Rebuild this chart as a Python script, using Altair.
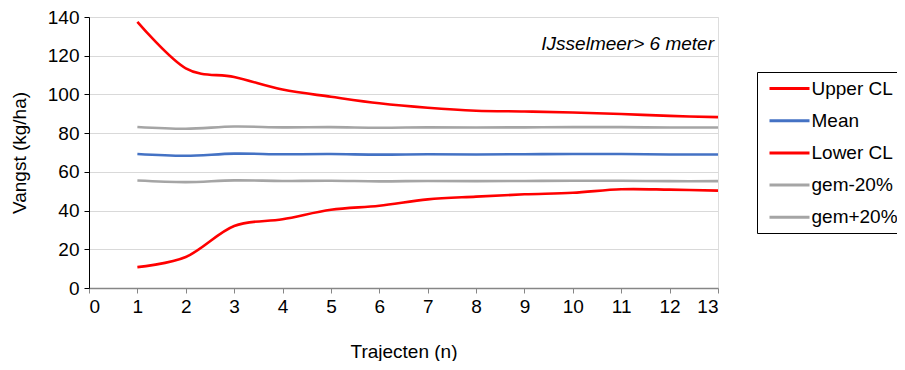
import altair as alt
import pandas as pd

trajecten = [1, 2, 3, 4, 5, 6, 7, 8, 9, 10, 11, 12, 13]
upper_cl = [137.5, 113.5, 109.0, 102.5, 98.8, 95.4, 93.1, 91.6, 91.2, 90.7, 89.9, 88.9, 88.3]
mean = [69.2, 68.3, 69.4, 69.1, 69.2, 68.9, 69.1, 69.0, 69.1, 69.2, 69.2, 69.0, 69.0]
lower_cl = [10.8, 16.0, 32.0, 35.5, 40.4, 42.5, 45.8, 47.2, 48.4, 49.2, 51.0, 50.8, 50.3]
gem_min20 = [55.5, 54.7, 55.6, 55.3, 55.4, 55.1, 55.3, 55.2, 55.3, 55.4, 55.4, 55.2, 55.2]
gem_plus20 = [83.2, 82.3, 83.4, 83.0, 83.1, 82.8, 83.0, 82.9, 83.0, 83.1, 83.1, 82.9, 82.9]

series_names = ["Upper CL", "Mean", "Lower CL", "gem-20%", "gem+20%"]
series_colors = ["#FF0000", "#4472C4", "#FF0000", "#A5A5A5", "#A5A5A5"]
annotation = "IJsselmeer> 6 meter"

df = pd.DataFrame({
    "n": trajecten,
    "Upper CL": upper_cl,
    "Mean": mean,
    "Lower CL": lower_cl,
    "gem-20%": gem_min20,
    "gem+20%": gem_plus20,
})
long = df.melt(id_vars="n", var_name="serie", value_name="vangst")

FONT = "Liberation Sans"
FS = 19
W, H = 629, 271

lines = alt.Chart(long).mark_line(
    interpolate="cardinal", strokeWidth=2.6
).encode(
    x=alt.X("n:Q", scale=alt.Scale(domain=[0, 13], nice=False),
            axis=alt.Axis(title="Trajecten (n)", values=list(range(0, 14)),
                          grid=False, domainColor="#868686", tickColor="#868686",
                          tickSize=5, labelPadding=4, titlePadding=26,
                          labelFontSize=FS, titleFontSize=FS,
                          labelColor="#000000", titleColor="#000000",
                          titleFontWeight="normal", labelFont=FONT, titleFont=FONT,
                          domainWidth=1.5)),
    y=alt.Y("vangst:Q", scale=alt.Scale(domain=[0, 140], nice=False),
            axis=alt.Axis(title="Vangst (kg/ha)", values=list(range(0, 141, 20)),
                          grid=True, gridColor="#D9D9D9", gridWidth=1.2,
                          domainColor="#000000", tickColor="#000000",
                          tickSize=5, labelPadding=5, titlePadding=18,
                          labelFontSize=FS, titleFontSize=FS,
                          labelColor="#000000", titleColor="#000000",
                          titleFontWeight="normal", labelFont=FONT, titleFont=FONT)),
    color=alt.Color("serie:N",
                    scale=alt.Scale(domain=series_names, range=series_colors),
                    sort=series_names,
                    legend=alt.Legend(title=None, orient="none", legendX=668, legendY=55,
                                      symbolType="M-0.4,0L3.6,0", symbolSize=400,
                                      symbolStrokeWidth=3, labelFontSize=FS,
                                      labelFont=FONT, labelColor="#000000",
                                      strokeColor="#000000", padding=5,
                                      rowPadding=10.2, labelOffset=26.5)),
    detail="serie:N",
)

text = alt.Chart(pd.DataFrame({"t": [annotation]})).mark_text(
    align="right", baseline="middle", fontStyle="italic", fontSize=FS,
    font=FONT, color="#000000"
).encode(
    x=alt.value(W - 4), y=alt.value(27), text="t:N"
)

chart = alt.layer(lines, text).properties(
    width=W, height=H,
    autosize=alt.AutoSizeParams(type="none"),
    padding={"left": 81, "top": 9, "right": 179, "bottom": 73},
).configure_view(stroke=None).configure(background="#FFFFFF")

chart.save("out.html", embed_options={"renderer": "svg", "actions": False})
